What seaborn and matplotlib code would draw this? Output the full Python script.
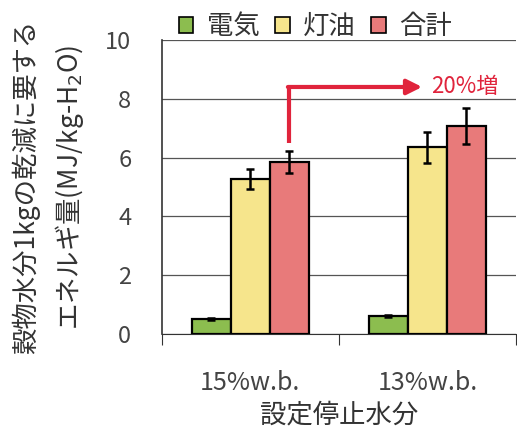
import numpy as np
import matplotlib
matplotlib.use("Agg")
import matplotlib.pyplot as plt
from matplotlib.patches import Patch
import pandas as pd
import seaborn as sb

# values
categories = ["15%w.b.", "13%w.b."]
series = ["電気", "灯油", "合計"]
denki = [0.52, 0.62]
touyu = [5.27, 6.35]
goukei = [5.84, 7.07]
denki_err = [0.03, 0.03]
touyu_err = [0.33, 0.53]
goukei_err = [0.38, 0.62]
colors = ["#8cbd4f", "#f6e58c", "#e87a7a"]

df = pd.DataFrame({
    "cat": categories * 3,
    "kind": [s for s in series for _ in categories],
    "val": denki + touyu + goukei,
    "err": denki_err + touyu_err + goukei_err,
})

sb.set_style("white")
plt.rcParams["font.family"] = ["Noto Sans CJK JP", "DejaVu Sans"]
plt.rcParams["text.color"] = "#333333"

fig = plt.figure(figsize=(5.17, 4.34), dpi=100)
ax = fig.add_axes([0.313, 0.2304, 0.685, 0.6776])

sb.barplot(data=df, x="cat", y="val", hue="kind", palette=colors,
           saturation=1, width=0.66, errorbar=None, edgecolor="black",
           linewidth=1.6, ax=ax, legend=False, zorder=3)

# error bars at the bar centres
bars = [p for p in ax.patches if p.get_height() > 0]
for p, e in zip(bars, df["err"]):
    xc = p.get_x() + p.get_width() / 2
    ax.errorbar(xc, p.get_height(), yerr=e, color="black", capsize=3,
                elinewidth=1.8, capthick=1.8, zorder=4)

ax.set_ylim(0, 10)
ax.set_xlim(-0.5, 1.5)
ax.set_yticks([0, 2, 4, 6, 8, 10])
ax.yaxis.grid(True, color="#555555", linewidth=0.9, zorder=0)
ax.tick_params(axis="y", direction="in", length=4, labelsize=17,
               labelcolor="#444444", pad=22)
ax.set_xticks([0, 1])
ax.set_xticklabels(categories)
ax.set_xticks([-0.5, 0.5, 1.5], minor=True)
ax.tick_params(axis="x", which="major", length=0, labelsize=18,
               labelcolor="#444444", pad=26)
ax.tick_params(axis="x", which="minor", direction="out", length=8,
               width=0.8, color="#333333", bottom=True)
for s in ["top", "right"]:
    ax.spines[s].set_visible(False)
ax.spines["left"].set_color("#333333")
ax.spines["bottom"].set_color("#333333")
ax.spines["left"].set_linewidth(1.2)

ax.set_xlabel("設定停止水分", fontsize=19, color="#333333", labelpad=4)
ax.set_ylabel("穀物水分1kgの乾減に要する\nエネルギ量(MJ/kg-H$_2$O)",
              fontsize=19, color="#333333", labelpad=14, linespacing=1.5)

# arrow annotation
red = "#e0243c"
red_x = bars[4].get_x() + bars[4].get_width() / 2
ax.plot([red_x, red_x], [6.5, 8.4], color=red, linewidth=3, zorder=5,
        solid_capstyle="butt")
ax.annotate("", xy=(0.97, 8.4), xytext=(red_x - 0.008, 8.4),
            arrowprops=dict(arrowstyle="-|>,head_length=0.9,head_width=0.45",
                            color=red, linewidth=3, shrinkA=0, shrinkB=0),
            zorder=5)
ax.text(1.02, 8.4, "20%増", color=red, fontsize=16, va="center",
        ha="left", zorder=6)

handles = [Patch(facecolor=c, edgecolor="black", linewidth=1.2) for c in colors]
fig.legend(handles, series, loc="upper left", bbox_to_anchor=(0.3, 1.025),
           ncol=3, frameon=False, fontsize=19, handlelength=0.55,
           handleheight=0.55, handletextpad=0.5, columnspacing=0.6)

fig.savefig("out.png", dpi=100)
